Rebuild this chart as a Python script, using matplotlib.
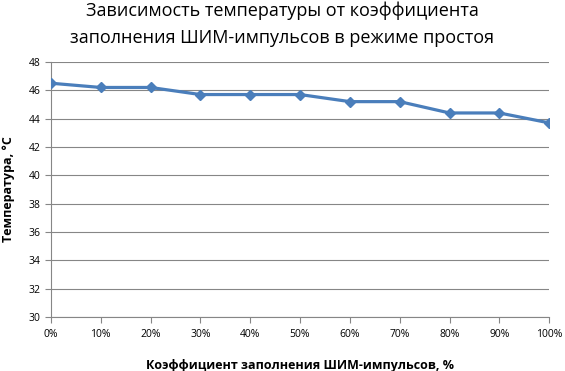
import matplotlib
matplotlib.use("Agg")
import matplotlib.pyplot as plt

categories = ["0%", "10%", "20%", "30%", "40%", "50%", "60%", "70%", "80%", "90%", "100%"]
temps = [46.5, 46.2, 46.2, 45.7, 45.7, 45.7, 45.2, 45.2, 44.4, 44.4, 43.7]
yticks = [30, 32, 34, 36, 38, 40, 42, 44, 46, 48]

plt.rcParams['font.family'] = ['Open Sans', 'DejaVu Sans']
fig = plt.figure(figsize=(5.65, 3.71), dpi=100)
ax = fig.add_axes([0.090, 0.1456, 0.882, 0.6874])
x = list(range(len(categories)))
ax.plot(x, temps, color='#4A7EBB', lw=2.3, marker='D', ms=5.5, zorder=3)
ax.set_xlim(0, len(categories) - 1)
ax.set_ylim(30, 48)
ax.set_yticks(yticks)
ax.set_xticks(x)
ax.set_xticklabels(categories, fontsize=7.5)
ax.tick_params(axis='y', labelsize=7.5, length=4, color='#868686')
ax.tick_params(axis='x', length=4, color='#868686', pad=5)
ax.grid(axis='y', color='#868686', lw=0.8)
for s in ['top', 'right']:
    ax.spines[s].set_visible(False)
for s in ['left', 'bottom']:
    ax.spines[s].set_color('#868686')
ax.set_xlabel('Коэффициент заполнения ШИМ-импульсов, %', fontsize=9, fontweight='bold', labelpad=13)
ax.set_ylabel('Температура, °C', fontsize=9, fontweight='bold', labelpad=10)
fig.text(0.5, 0.995, 'Зависимость температуры от коэффициента\nзаполнения ШИМ-импульсов в режиме простоя',
         ha='center', va='top', fontsize=13, linespacing=1.6)
fig.savefig('out.png', dpi=100)
